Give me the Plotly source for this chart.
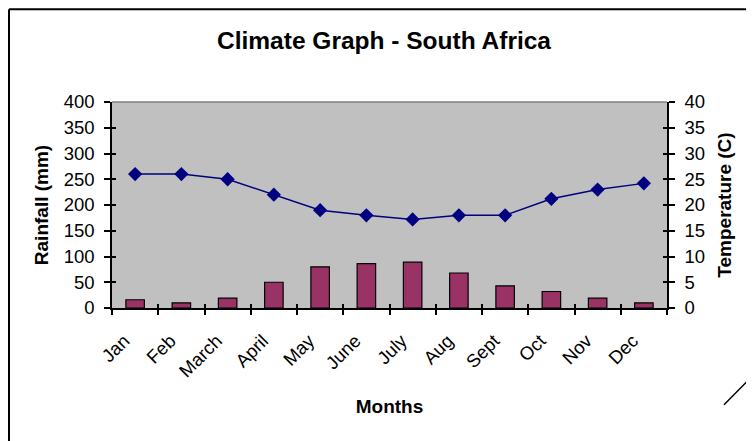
import plotly.graph_objects as go

months = ["Jan", "Feb", "March", "April", "May", "June", "July", "Aug", "Sept", "Oct", "Nov", "Dec"]
rainfall_mm = [16, 10, 19, 50, 80, 86, 89, 68, 43, 32, 19, 10]
temperature_c = [26, 26, 25, 22, 19, 18, 17.2, 18, 18, 21.2, 23, 24.2]
left_ticks = [0, 50, 100, 150, 200, 250, 300, 350, 400]
right_ticks = [0, 5, 10, 15, 20, 25, 30, 35, 40]

OFF = 8  # page body margin
W, H = 754 - OFF, 441 - OFF
L, R, T, B = 112 - OFF, 667 - OFF, 102 - OFF, 308.5 - OFF


def px(x):
    return (x - OFF - L) / (R - L)


def py(y):
    return (B - (y - OFF)) / (B - T)


FONT = "Liberation Sans, Arial, sans-serif"
TICK = 18.5
AXT = 19

fig = go.Figure()
fig.add_trace(go.Bar(
    x=months, y=rainfall_mm, width=0.4,
    marker=dict(color="#993366", line=dict(color="black", width=1.2)),
    yaxis="y", name="Rainfall",
))
fig.add_trace(go.Scatter(
    x=months, y=temperature_c, mode="lines+markers",
    line=dict(color="#000080", width=1.5),
    marker=dict(symbol="diamond", size=11, color="#000080"),
    yaxis="y2", name="Temperature",
))

axis_common = dict(tickcolor="black", tickwidth=1.5, showgrid=False, zeroline=False, automargin=False)

fig.update_layout(
    width=W, height=H,
    margin=dict(l=L, r=W - R, t=T, b=H - B, autoexpand=False),
    paper_bgcolor="white", plot_bgcolor="#C0C0C0",
    showlegend=False,
    font=dict(family=FONT, size=TICK, color="black"),
    title=dict(text="<b>Climate Graph - South Africa</b>", x=(384 - OFF) / W, xanchor="center",
               y=1 - (40 - OFF) / H, yanchor="middle", font=dict(size=24.5, family=FONT)),
    xaxis=dict(
        type="category", tickson="boundaries", ticks="outside", ticklen=5,
        showline=True, linecolor="black", linewidth=1.5,
        tickangle=-45, tickfont=dict(size=TICK), ticklabelstandoff=13, ticklabelshift=-11,
        title=dict(text="<b>Months</b>", font=dict(size=AXT), standoff=19),
        range=[-0.5, 11.5], **axis_common,
    ),
    xaxis2=dict(
        type="category", overlaying="x", side="bottom", tickson="boundaries",
        ticks="inside", ticklen=4, showticklabels=False, showline=False,
        range=[-0.5, 11.5], categoryarray=months, categoryorder="array",
        tickvals=months, **axis_common,
    ),
    yaxis=dict(
        range=[0, 400], tickvals=left_ticks, ticks="outside", ticklen=6,
        showline=True, linecolor="black", linewidth=1.5, ticklabelstandoff=6,
        title=dict(text="<b>Rainfall (mm)</b>", font=dict(size=AXT), standoff=10),
        **axis_common,
    ),
    yaxis2=dict(
        range=[0, 40], tickvals=right_ticks, overlaying="y", side="right",
        ticks="outside", ticklen=6, ticklabelstandoff=6,
        showline=True, linecolor="black", linewidth=1.5,
        title=dict(text="<b>Temperature (C)</b>", font=dict(size=AXT), standoff=14),
        **axis_common,
    ),
    yaxis3=dict(
        range=[0, 400], tickvals=left_ticks, overlaying="y", side="left",
        ticks="inside", ticklen=4, showticklabels=False, showline=False,
        **axis_common,
    ),
    yaxis4=dict(
        range=[0, 40], tickvals=right_ticks, overlaying="y", side="right",
        ticks="inside", ticklen=4, showticklabels=False, showline=False,
        **axis_common,
    ),
    shapes=[
        dict(type="line", xref="paper", yref="paper", x0=0, x1=1, y0=1, y1=1,
             line=dict(color="#808080", width=1.5)),
        # outer chart border (left and top edges, as close to the page edge as the figure allows)
        dict(type="line", xref="paper", yref="paper", x0=px(9), x1=px(9), y0=py(9), y1=py(445),
             line=dict(color="black", width=2)),
        dict(type="line", xref="paper", yref="paper", x0=px(9), x1=px(760), y0=py(9), y1=py(9),
             line=dict(color="black", width=2)),
        dict(type="line", xref="paper", yref="paper", x0=px(724), x1=px(755), y0=py(405.5), y1=py(374),
             line=dict(color="black", width=1.5)),
    ],
)

# invisible helper traces so the inside-tick overlay axes are drawn
fig.add_trace(go.Scatter(x=months[:1], y=[None], xaxis="x2", yaxis="y3", showlegend=False, hoverinfo="skip"))
fig.add_trace(go.Scatter(x=months[:1], y=[None], xaxis="x2", yaxis="y4", showlegend=False, hoverinfo="skip"))

fig.write_html("out.html")
